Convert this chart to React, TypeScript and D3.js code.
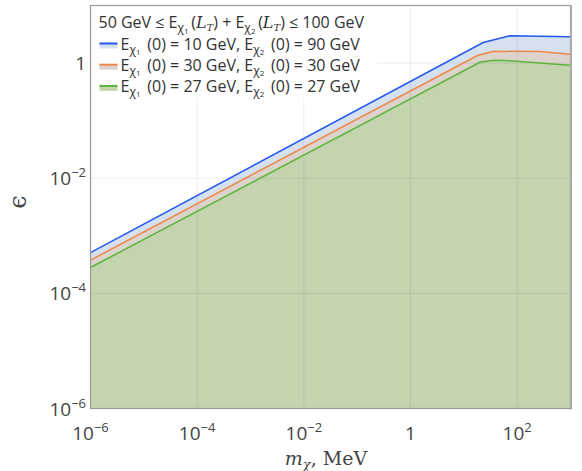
import * as d3 from 'd3'

// chart data (m in MeV, epsilon dimensionless)
const massBlue = [1e-6, 23, 73, 1000]
const epsBlue = [5.1e-4, 2.27, 2.97, 2.86]
const massOrange = [1e-6, 18, 36, 270, 1000]
const epsOrange = [3.78e-4, 1.35, 1.6, 1.59, 1.42]
const massGreen = [1e-6, 20, 36, 73, 1000]
const epsGreen = [2.81e-4, 1.03, 1.12, 1.1, 0.92]

const e1Values = [10, 30, 27]
const e2Values = [90, 30, 27]

const xTicks = [1e-6, 1e-4, 1e-2, 1, 1e2]
const yTicks = [1e-6, 1e-4, 1e-2, 1]

const W = 582
const H = 471
const PLOT = { left: 90.5, right: 570.5, top: 5.5, bottom: 408.5 }
const SANS = '"Open Sans", "Noto Sans", sans-serif'
const SERIF = '"DejaVu Serif", "Liberation Serif", serif'

const SERIES = [
  { m: massBlue, e: epsBlue, line: '#2258ee', fill: '#d5e1ee' },
  { m: massOrange, e: epsOrange, line: '#ef8846', fill: '#dcd3cd' },
  { m: massGreen, e: epsGreen, line: '#5bb63b', fill: '#c4d4af' },
]

function powLabel(v: number) {
  const p = Math.round(Math.log10(v))
  if (p === 0) return { base: '1', exp: '' }
  return { base: '10', exp: p < 0 ? `\u2212${-p}` : `${p}` }
}

// E with subscript chi and sub-subscript index
function ESub({ idx }: { idx: number }) {
  return (
    <>
      <tspan>E</tspan>
      <tspan fontSize={12} dy={4}>χ</tspan>
      <tspan fontSize={8} dy={1.5}>{idx}</tspan>
      <tspan dy={-5.5}>{'\u2009'}</tspan>
    </>
  )
}

function LT() {
  return (
    <>
      <tspan fontFamily={SERIF} fontStyle="italic">L</tspan>
      <tspan fontFamily={SERIF} fontStyle="italic" fontSize={10} dy={3}>T</tspan>
      <tspan dy={-3}>)</tspan>
    </>
  )
}

export default function App() {
  const x = d3.scaleLog().domain([1e-6, 1e3]).range([PLOT.left, PLOT.right])
  const y = d3.scaleLog().domain([1e-6, 10]).range([PLOT.bottom, PLOT.top])

  const area = (m: number[], e: number[]) =>
    d3.area<number>()
      .x((_, i) => x(m[i]))
      .y0(y(1e-6))
      .y1((d) => y(d))(e) ?? ''
  const line = (m: number[], e: number[]) =>
    d3.line<number>()
      .x((_, i) => x(m[i]))
      .y((d) => y(d))(e) ?? ''

  const legendX = PLOT.left + 8
  const rowY = [28.3, 49.5, 70.7, 91.9]

  return (
    <svg width={W} height={H} style={{ position: 'absolute', left: 0, top: 0, background: '#fff' }}>
      {/* filled regions */}
      {SERIES.map((s, i) => (
        <path key={`a${i}`} d={area(s.m, s.e)} fill={s.fill} />
      ))}

      {/* grid */}
      {xTicks.slice(1).map((t) => (
        <line key={`gx${t}`} x1={x(t)} x2={x(t)} y1={PLOT.top} y2={PLOT.bottom}
          stroke="#000" strokeOpacity={0.07} strokeWidth={1} />
      ))}
      {yTicks.slice(1).map((t) => (
        <line key={`gy${t}`} x1={PLOT.left} x2={PLOT.right} y1={y(t)} y2={y(t)}
          stroke="#000" strokeOpacity={0.07} strokeWidth={1} />
      ))}

      {/* legend background sits under the curves */}
      <rect x={PLOT.left + 1} y={PLOT.top + 1} width={376 - PLOT.left} height={97 - PLOT.top} fill="#fff" />

      {/* curves */}
      {SERIES.map((s, i) => (
        <path key={`l${i}`} d={line(s.m, s.e)} fill="none" stroke={s.line} strokeWidth={1.5} />
      ))}

      {/* legend */}
      <g fontFamily={SANS} fontSize={16} fill="#333">
        <text x={legendX} y={rowY[0]}>
          <tspan>50 GeV ≤ </tspan>
          <ESub idx={1} />
          <tspan>(</tspan>
          <LT />
          <tspan> + </tspan>
          <ESub idx={2} />
          <tspan>(</tspan>
          <LT />
          <tspan> ≤ 100 GeV</tspan>
        </text>
        {SERIES.map((s, i) => (
          <g key={`lg${i}`}>
            <rect x={legendX + 1} y={rowY[i + 1] - 6} width={18} height={5} fill={s.fill} />
            <line x1={legendX + 1} x2={legendX + 19} y1={rowY[i + 1] - 6} y2={rowY[i + 1] - 6}
              stroke={s.line} strokeWidth={2} />
            <text x={legendX + 22} y={rowY[i + 1]}>
              <ESub idx={1} />
              <tspan> (0) = {e1Values[i]} GeV, </tspan>
              <ESub idx={2} />
              <tspan> (0) = {e2Values[i]} GeV</tspan>
            </text>
          </g>
        ))}
      </g>

      {/* frame */}
      <rect x={PLOT.left} y={PLOT.top} width={PLOT.right - PLOT.left} height={PLOT.bottom - PLOT.top}
        fill="none" stroke="#999" strokeWidth={1.2} />
      <line x1={PLOT.right + 0.5} x2={PLOT.right + 0.5} y1={PLOT.top} y2={PLOT.bottom + 1}
        stroke="#aaa" strokeWidth={2} />

      {/* x tick labels */}
      <g fontFamily={SANS} fontSize={19} fill="#444" textAnchor="middle">
        {xTicks.map((t) => {
          const l = powLabel(t)
          return (
            <text key={`xt${t}`} x={x(t)} y={440}>
              <tspan>{l.base}</tspan>
              {l.exp && <tspan fontSize={13} dy={-8}>{l.exp}</tspan>}
            </text>
          )
        })}
      </g>

      {/* y tick labels */}
      <g fontFamily={SANS} fontSize={19} fill="#444" textAnchor="end">
        {yTicks.map((t) => {
          const l = powLabel(t)
          return (
            <text key={`yt${t}`} x={86} y={y(t) + 7}>
              <tspan>{l.base}</tspan>
              {l.exp && <tspan fontSize={13} dy={-8}>{l.exp}</tspan>}
            </text>
          )
        })}
      </g>

      {/* axis titles */}
      <text x={326} y={465} fontFamily={SERIF} fontSize={19} fill="#444" textAnchor="middle">
        <tspan fontStyle="italic">m</tspan>
        <tspan fontStyle="italic" fontSize={13} dy={4}>χ</tspan>
        <tspan dy={-4}>, MeV</tspan>
      </text>
      <text transform="translate(26,202) rotate(-90)" fontFamily={SERIF} fontSize={24} fill="#444"
        textAnchor="middle">ϵ</text>
    </svg>
  )
}
